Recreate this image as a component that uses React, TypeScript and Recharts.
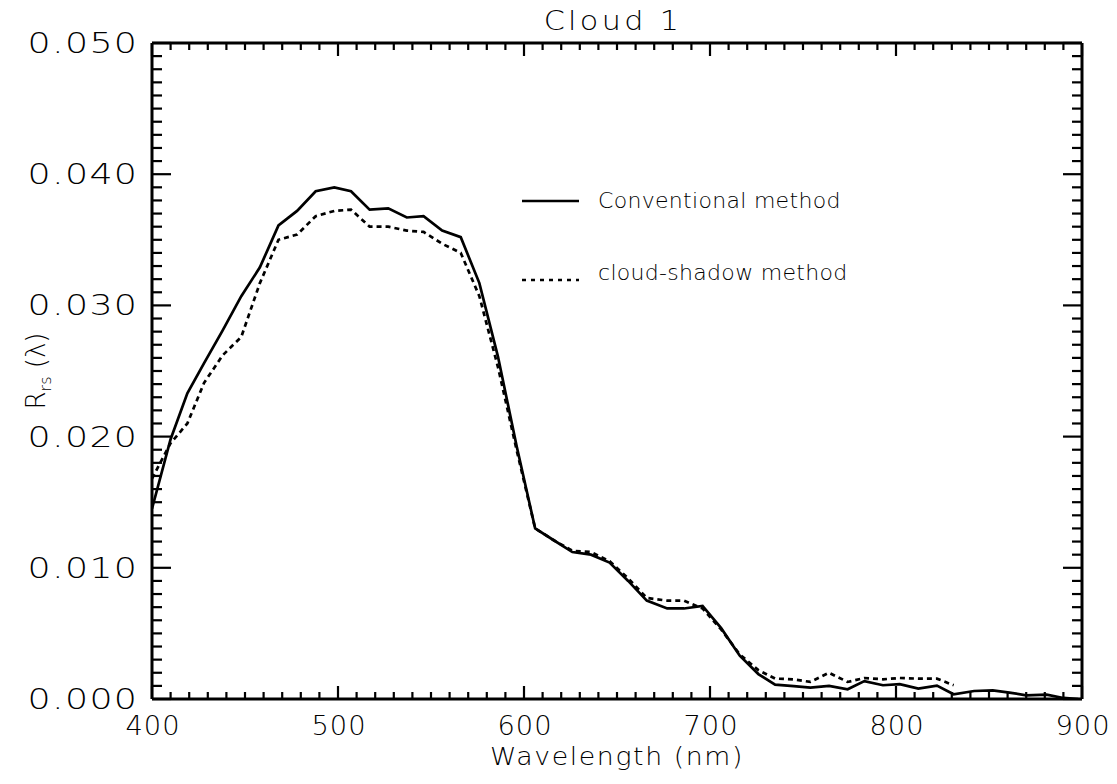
import React from 'react';
import { LineChart, Line, XAxis, YAxis } from 'recharts';

// Wavelength samples (nm)
const wavelengths = [
  400, 410, 419, 428, 438, 448, 458, 468, 478, 488,
  498, 507, 517, 527, 537, 546, 556, 566, 576, 586,
  596, 606, 616, 626, 636, 646, 656, 666, 677, 686,
  696, 706, 716, 726, 735, 745, 754, 764, 774, 783,
  793, 802, 812, 822, 831, 842, 852, 861, 870, 881,
  890, 898,
];

// Remote-sensing reflectance, conventional method
const conventional = [
  0.0145, 0.0198, 0.0233, 0.0256, 0.0281, 0.0307, 0.0329, 0.0361, 0.0372, 0.0387,
  0.0390, 0.0387, 0.0373, 0.0374, 0.0367, 0.0368, 0.0357, 0.0352, 0.0317, 0.0261,
  0.0193, 0.0130, 0.0121, 0.0112, 0.0110, 0.0104, 0.0090, 0.0075, 0.0069, 0.0069,
  0.0071, 0.0054, 0.0033, 0.0019, 0.0011, 0.00098, 0.00087, 0.0010, 0.00074, 0.00136,
  0.00105, 0.00113, 0.00079, 0.00102, 0.00036, 0.00061, 0.00066, 0.00049, 0.00028, 0.00033,
  0.00008, 0.0,
];

// Remote-sensing reflectance, cloud-shadow method (no data past 831 nm)
const cloudShadow = [
  0.0168, 0.0195, 0.0210, 0.0241, 0.0262, 0.0276, 0.0317, 0.0350, 0.0354, 0.0368,
  0.0372, 0.0373, 0.0360, 0.0360, 0.0357, 0.0356, 0.0347, 0.0340, 0.0307, 0.0253,
  0.0190, 0.0130, 0.0121, 0.0113, 0.0112, 0.0105, 0.0092, 0.0077, 0.0075, 0.0075,
  0.0069, 0.0053, 0.0034, 0.0022, 0.00156, 0.00149, 0.0013, 0.0020, 0.0013, 0.0016,
  0.0015, 0.0016, 0.00155, 0.00155, 0.00105, null, null, null, null, null,
  null, null,
];

const xMajorTicks = [400, 500, 600, 700, 800, 900];
const xMinorStep = 10;
const yMajorTicks = [0, 0.01, 0.02, 0.03, 0.04, 0.05];
const yMinorStep = 0.001;

const titleText = 'Cloud 1';
const xLabelText = 'Wavelength (nm)';
const legendLabels = ['Conventional method', 'cloud-shadow method'];

const data = wavelengths.map((w, i) => ({
  wl: w,
  conv: conventional[i],
  shadow: cloudShadow[i],
}));

const xTicks: number[] = [];
for (let v = xMajorTicks[0]; v <= xMajorTicks[xMajorTicks.length - 1]; v += xMinorStep) xTicks.push(v);
const yTicks: number[] = [];
const yCount = Math.round(yMajorTicks[yMajorTicks.length - 1] / yMinorStep);
for (let i = 0; i <= yCount; i++) yTicks.push(i / 1000);

const isXMajor = (v: number) => xMajorTicks.includes(v);
const isYMajor = (v: number) => yMajorTicks.some((m) => Math.abs(m - v) < 1e-9);

const FONT = '"DejaVu Sans", sans-serif';
const INK = '#000';
const TICK_W = 2.2;
const FRAME_W = 3;

// Horizontally stretched text, mimicking the wide vector plotting font
const WideText = ({ x, y, anchor = 'middle', size, sx = 1.1, ls = 2, children }: any) => (
  <g transform={`translate(${x},${y}) scale(${sx},1)`}>
    <text
      x={0}
      y={0}
      textAnchor={anchor}
      fontSize={size}
      fontFamily={FONT}
      fontWeight={300}
      letterSpacing={ls}
      fill={INK}
    >
      {children}
    </text>
  </g>
);

const BottomTick = ({ x, y, payload }: any) => {
  const major = isXMajor(payload.value);
  return (
    <g>
      <line x1={x} y1={y} x2={x} y2={y - (major ? 13 : 7)} stroke={INK} strokeWidth={TICK_W} />
      {major && (
        <WideText x={x + 1} y={y + 36} size={26} sx={1.05} ls={1}>
          {String(payload.value)}
        </WideText>
      )}
    </g>
  );
};

const TopTick = ({ x, y, payload }: any) => {
  const major = isXMajor(payload.value);
  return <line x1={x} y1={y} x2={x} y2={y + (major ? 13 : 7)} stroke={INK} strokeWidth={TICK_W} />;
};

const LeftTick = ({ x, y, payload }: any) => {
  const major = isYMajor(payload.value);
  const sx = 1.3;
  const ls = 1;
  return (
    <g>
      <line x1={x} y1={y} x2={x + (major ? 19 : 10)} y2={y} stroke={INK} strokeWidth={TICK_W} />
      {major && (
        <WideText x={x - 15 + ls * sx} y={y + 10} anchor="end" size={28} sx={sx} ls={ls}>
          {payload.value.toFixed(3)}
        </WideText>
      )}
    </g>
  );
};

const RightTick = ({ x, y, payload }: any) => {
  const major = isYMajor(payload.value);
  return <line x1={x} y1={y} x2={x - (major ? 19 : 10)} y2={y} stroke={INK} strokeWidth={TICK_W} />;
};

const TitleLabel = ({ viewBox }: any) => {
  const cx = viewBox.x + viewBox.width / 2;
  return (
    <WideText x={cx - 4} y={viewBox.y - 12} size={27} sx={1.12} ls={3}>
      {titleText}
    </WideText>
  );
};

const XTitle = ({ viewBox }: any) => {
  const cx = viewBox.x + viewBox.width / 2;
  return (
    <WideText x={cx} y={viewBox.y + 66} size={25} sx={1.07} ls={1.5}>
      {xLabelText}
    </WideText>
  );
};

const YTitle = ({ viewBox }: any) => {
  const cx = 45;
  const cy = viewBox.y + viewBox.height / 2;
  return (
    <text
      transform={`translate(${cx},${cy}) rotate(-90)`}
      textAnchor="middle"
      fontSize={26}
      fontFamily={FONT}
      fontWeight={300}
      fill={INK}
    >
      <tspan>R</tspan>
      <tspan fontSize={16} dy={6}>rs</tspan>
      <tspan dy={-6}> (λ)</tspan>
    </text>
  );
};

// Legend drawn inside the plot frame
const LegendBlock = () => (
  <g>
    <line x1={522} y1={201} x2={579} y2={201} stroke={INK} strokeWidth={2.6} />
    <text x={598} y={208} fontSize={22} fontFamily={FONT} fontWeight={300} fill={INK} letterSpacing={0.3}>
      {legendLabels[0]}
    </text>
    <line x1={522} y1={280} x2={579} y2={280} stroke={INK} strokeWidth={2.6} strokeDasharray="4 5" />
    <text x={598} y={280} fontSize={22} fontFamily={FONT} fontWeight={300} fill={INK} letterSpacing={0.3}>
      {legendLabels[1]}
    </text>
  </g>
);

export default function App() {
  return (
    <div style={{ width: 1117, height: 784, margin: '-8px 0 0 -8px', background: '#fff' }}>
      <LineChart
        width={1117}
        height={784}
        data={data}
        margin={{ top: 42, right: 34, bottom: 0, left: 0 }}
      >
        <XAxis
          xAxisId="bottom"
          dataKey="wl"
          type="number"
          domain={[400, 900]}
          ticks={xTicks}
          interval={0}
          orientation="bottom"
          height={85}
          tickSize={0}
          tickMargin={0}
          tickLine={false}
          axisLine={{ stroke: INK, strokeWidth: FRAME_W }}
          tick={<BottomTick />}
          label={<XTitle />}
          allowDataOverflow
        />
        <XAxis
          xAxisId="top"
          dataKey="wl"
          type="number"
          domain={[400, 900]}
          ticks={xTicks}
          interval={0}
          orientation="top"
          height={1}
          tickSize={0}
          tickMargin={0}
          tickLine={false}
          axisLine={{ stroke: INK, strokeWidth: FRAME_W }}
          tick={<TopTick />}
          label={<TitleLabel />}
          allowDataOverflow
        />
        <YAxis
          yAxisId="left"
          type="number"
          domain={[0, 0.05]}
          ticks={yTicks}
          interval={0}
          orientation="left"
          width={152}
          tickSize={0}
          tickMargin={0}
          tickLine={false}
          axisLine={{ stroke: INK, strokeWidth: FRAME_W }}
          tick={<LeftTick />}
          label={<YTitle />}
          allowDataOverflow
        />
        <YAxis
          yAxisId="right"
          type="number"
          domain={[0, 0.05]}
          ticks={yTicks}
          interval={0}
          orientation="right"
          width={1}
          tickSize={0}
          tickMargin={0}
          tickLine={false}
          axisLine={{ stroke: INK, strokeWidth: FRAME_W }}
          tick={<RightTick />}
          allowDataOverflow
        />
        <Line
          xAxisId="bottom"
          yAxisId="left"
          type="linear"
          dataKey="conv"
          stroke={INK}
          strokeWidth={2.7}
          dot={false}
          activeDot={false}
          isAnimationActive={false}
        />
        <Line
          xAxisId="bottom"
          yAxisId="left"
          type="linear"
          dataKey="shadow"
          stroke={INK}
          strokeWidth={2.7}
          strokeDasharray="5 4"
          dot={false}
          activeDot={false}
          connectNulls={false}
          isAnimationActive={false}
        />
        <LegendBlock />
      </LineChart>
    </div>
  );
}
